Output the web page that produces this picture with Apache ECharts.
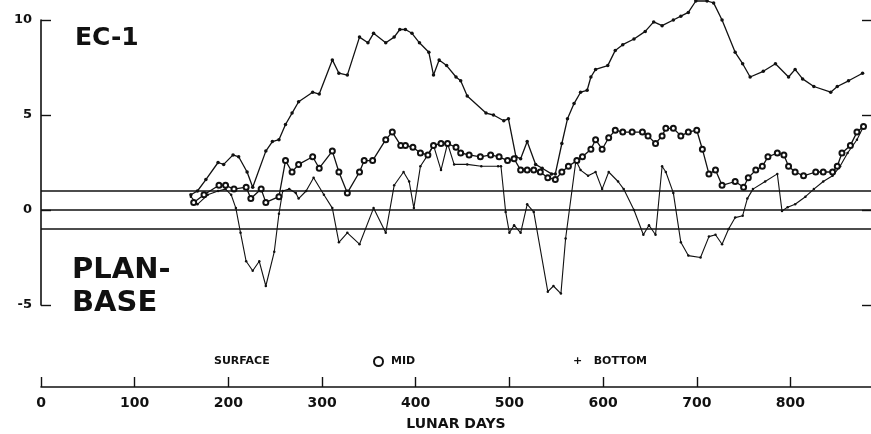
<!DOCTYPE html>
<html>
<head>
<meta charset="utf-8">
<script src="https://cdn.jsdelivr.net/npm/echarts@6/dist/echarts.min.js"></script>
<style>
  html, body { margin: 0; padding: 0; background: #fff; }
  #chart { width: 871px; height: 434px; }
</style>
</head>
<body>
<div id="chart"></div>
<script>
// Lunar day of each reading and the plan-minus-base difference, per depth
const surfaceDays = [160,167,176,189,195,205,211,220,226,240,247,254,261,268,275,290,297,311,318,327,340,349,355,368,377,383,389,396,404,414,419,425,433,443,448,455,475,483,494,499,507,512,519,528,535,545,549,556,562,569,576,583,587,592,605,613,621,633,645,654,663,675,683,691,699,711,718,727,741,749,757,771,784,798,805,813,825,843,850,862,877];
const surfaceValues = [0.8,1.0,1.6,2.5,2.4,2.9,2.8,2.0,1.2,3.1,3.6,3.7,4.5,5.1,5.7,6.2,6.1,7.9,7.2,7.1,9.1,8.8,9.3,8.8,9.1,9.5,9.5,9.3,8.8,8.3,7.1,7.9,7.6,7.0,6.8,6.0,5.1,5.0,4.7,4.8,2.8,2.7,3.6,2.4,2.2,1.9,1.9,3.5,4.8,5.6,6.2,6.3,7.0,7.4,7.6,8.4,8.7,9.0,9.4,9.9,9.7,10.0,10.2,10.4,11.0,11.0,10.9,10.0,8.3,7.7,7.0,7.3,7.7,7.0,7.4,6.9,6.5,6.2,6.5,6.8,7.2];

const midDays = [163,174,190,197,206,219,224,235,240,254,261,268,275,290,297,311,318,327,340,345,354,368,375,384,389,397,405,413,419,427,434,443,448,457,469,480,489,498,505,512,519,526,533,541,549,556,563,572,578,587,592,599,606,613,621,631,642,648,656,663,667,675,683,691,700,706,713,720,727,741,750,755,763,770,776,786,793,798,805,814,827,835,845,850,855,864,871,878];
const midValues = [0.4,0.8,1.3,1.3,1.1,1.2,0.6,1.1,0.4,0.7,2.6,2.0,2.4,2.8,2.2,3.1,2.0,0.9,2.0,2.6,2.6,3.7,4.1,3.4,3.4,3.3,3.0,2.9,3.4,3.5,3.5,3.3,3.0,2.9,2.8,2.9,2.8,2.6,2.7,2.1,2.1,2.1,2.0,1.7,1.6,2.0,2.3,2.6,2.8,3.2,3.7,3.2,3.8,4.2,4.1,4.1,4.1,3.9,3.5,3.9,4.3,4.3,3.9,4.1,4.2,3.2,1.9,2.1,1.3,1.5,1.2,1.7,2.1,2.3,2.8,3.0,2.9,2.3,2.0,1.8,2.0,2.0,2.0,2.3,3.0,3.4,4.1,4.4];

const bottomDays = [160,167,178,189,197,203,208,213,219,226,233,240,249,254,258,265,272,275,283,291,302,311,318,327,340,355,368,377,387,393,398,405,413,419,427,434,441,455,470,488,491,496,500,505,512,519,526,541,547,555,560,571,576,584,592,599,606,616,622,633,643,649,656,663,667,675,683,691,704,713,720,727,734,741,749,754,760,773,786,791,797,805,816,825,835,845,853,861,871,878];
const bottomValues = [0.7,0.3,0.8,1.0,1.1,0.8,0.1,-1.2,-2.7,-3.2,-2.7,-4.0,-2.2,-0.2,1.0,1.1,0.9,0.6,1.0,1.7,0.8,0.1,-1.7,-1.2,-1.8,0.1,-1.2,1.3,2.0,1.5,0.1,2.3,2.9,3.4,2.1,3.5,2.4,2.4,2.3,2.3,2.3,-0.1,-1.2,-0.8,-1.2,0.3,-0.1,-4.3,-4.0,-4.4,-1.5,2.6,2.1,1.8,2.0,1.1,2.0,1.5,1.1,0.0,-1.3,-0.8,-1.3,2.3,2.0,0.9,-1.7,-2.4,-2.5,-1.4,-1.3,-1.8,-1.0,-0.4,-0.3,0.6,1.1,1.5,1.9,-0.05,0.15,0.3,0.7,1.1,1.5,1.8,2.3,3.0,3.7,4.4];

// Tick positions on the day axis and the reference levels across the plot
const dayTicks = [0, 100, 200, 300, 400, 500, 600, 700, 800];
const bandLevels = [1, 0, -1];

const pairs = (xs, ys) => xs.map((x, i) => [x, ys[i]]);

const ink = '#111';
const font = 'DejaVu Sans';

const chart = echarts.init(document.getElementById('chart'), null, { renderer: 'canvas' });

chart.setOption({
  backgroundColor: '#ffffff',
  animation: false,
  title: [
    { text: 'EC-1', left: 70, top: 21,
      textStyle: { fontFamily: font, fontWeight: 'bold', fontSize: 25, color: ink } },
    { text: 'PLAN-\nBASE', left: 67, top: 249,
      textStyle: { fontFamily: font, fontWeight: 'bold', fontSize: 29, lineHeight: 33, color: ink } }
  ],
  legend: [
    { left: 204, top: 351, selectedMode: false, itemWidth: 0, itemHeight: 0,
      data: [{ name: 'SURFACE', icon: 'none' }],
      textStyle: { fontFamily: font, fontWeight: 'bold', fontSize: 11, color: ink } },
    { left: 368, top: 351, selectedMode: false, itemWidth: 9, itemHeight: 9, itemGap: 5,
      data: [{ name: 'MID', icon: 'emptyCircle' }],
      textStyle: { fontFamily: font, fontWeight: 'bold', fontSize: 11, color: ink, padding: [0, 0, 0, 3] } },
    { left: 563, top: 351, selectedMode: false, itemWidth: 0, itemHeight: 0,
      data: [{ name: 'BOTTOM', icon: 'none' }],
      formatter: '+   BOTTOM',
      textStyle: { fontFamily: font, fontWeight: 'bold', fontSize: 11, color: ink } }
  ],
  grid: [
    { left: 41, right: 0, top: 20, bottom: 129 },
    { left: 41, right: 0, top: 377, bottom: 47 }
  ],
  xAxis: [
    { gridIndex: 0, type: 'value', min: 0, max: 886, show: false },
    { gridIndex: 1, type: 'value', min: 0, max: 886, interval: 100, position: 'bottom',
      axisLine: { show: true, lineStyle: { color: ink, width: 1.6 } },
      axisTick: { show: true, inside: true, length: 10, customValues: dayTicks,
        lineStyle: { color: ink, width: 1.4 } },
      axisLabel: { margin: 9, customValues: dayTicks,
        fontFamily: font, fontWeight: 'bold', fontSize: 14, color: ink },
      splitLine: { show: false },
      name: 'LUNAR DAYS', nameLocation: 'middle', nameGap: 30,
      nameTextStyle: { fontFamily: font, fontWeight: 'bold', fontSize: 14, color: ink } }
  ],
  yAxis: [
    { gridIndex: 0, type: 'value', min: -5, max: 10, interval: 5, position: 'left',
      axisLine: { show: true, onZero: false, lineStyle: { color: ink, width: 1.6 } },
      axisTick: { show: true, inside: true, length: 10, lineStyle: { color: ink, width: 1.4 } },
      axisLabel: { margin: 9, fontFamily: font, fontWeight: 'bold', fontSize: 13, color: ink },
      splitLine: { show: false } },
    { gridIndex: 0, type: 'value', min: -5, max: 10, interval: 5, position: 'right',
      axisLine: { show: true, onZero: false, lineStyle: { color: 'rgba(0,0,0,0)', width: 0 } },
      axisTick: { show: true, inside: true, length: 9, lineStyle: { color: ink, width: 1.4 } },
      axisLabel: { show: false },
      splitLine: { show: false } },
    { gridIndex: 1, type: 'value', show: false, min: 0, max: 1 }
  ],
  series: [
    {
      name: 'SURFACE', type: 'line', xAxisIndex: 0, yAxisIndex: 0, clip: false,
      data: pairs(surfaceDays, surfaceValues),
      symbol: 'circle', symbolSize: 3.5, showSymbol: true,
      lineStyle: { color: ink, width: 1.3 },
      itemStyle: { color: ink },
      markLine: {
        silent: true, symbol: 'none', label: { show: false },
        lineStyle: { color: ink, width: 1.5, type: 'solid' },
        data: bandLevels.map(v => ({ yAxis: v }))
      },
      z: 3
    },
    {
      name: 'MID', type: 'line', xAxisIndex: 0, yAxisIndex: 0, clip: false,
      data: pairs(midDays, midValues),
      symbol: 'emptyCircle', symbolSize: 5, showSymbol: true,
      lineStyle: { color: ink, width: 1.3 },
      itemStyle: { color: ink, borderColor: ink, borderWidth: 1.2 },
      z: 4
    },
    {
      name: 'BOTTOM', type: 'line', xAxisIndex: 0, yAxisIndex: 0, clip: false,
      data: pairs(bottomDays, bottomValues),
      symbol: 'circle', symbolSize: 2.5, showSymbol: true,
      lineStyle: { color: ink, width: 1.1 },
      itemStyle: { color: ink },
      z: 2
    }
  ]
});
</script>
</body>
</html>
